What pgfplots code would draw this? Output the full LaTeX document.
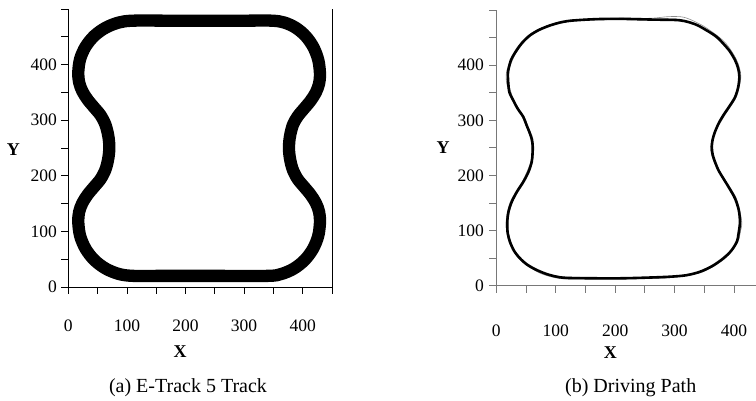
\documentclass[border=0pt]{standalone}
\usepackage{fontspec}
\setmainfont{Liberation Serif}
\usepackage{pgfplots}
\pgfplotsset{compat=1.18}
\definecolor{axgray}{RGB}{120,120,120}
\definecolor{lapgray}{RGB}{140,140,140}
\begin{document}
\begin{tikzpicture}[x=1pt,y=1pt]
\useasboundingbox (0pt,0pt) rectangle (756pt,401pt);
\pgfplotsset{myaxis/.style={
  scale only axis, xmin=0, ymin=0, ymax=500,
  axis x line=bottom, axis y line=left,
  tick align=outside, major tick length=7pt,
  ytick={0,50,...,500}, yticklabels={0,,100,,200,,300,,400,,},
  /pgf/number format/assume math mode=true,
  tick label style={font=\fontsize{17.5}{20}\selectfont, text=black},
  clip=false,
}}
% ---------- (a) track ----------
\begin{axis}[myaxis,
  at={(68.3pt,114pt)}, anchor=south west,
  width=263.7pt, height=278pt, xmax=450,
  xtick={0,50,...,450}, xticklabels={0,,100,,200,,300,,400,},
  axis line style={-, black, line width=0.8pt},
  tick style={black, line width=0.8pt},
  xticklabel style={anchor=center, yshift=-32pt},
  yticklabel style={xshift=-1pt},
  every axis x label/.style={at={(axis description cs:0.4236,0)}, anchor=center, yshift=-64.7pt, font=\fontsize{18}{20}\selectfont\bfseries},
  every axis y label/.style={at={(axis description cs:0,0.4928)}, anchor=center, xshift=-55pt, font=\fontsize{18}{20}\selectfont\bfseries},
  xlabel={X}, ylabel={Y},
]
\addplot[black, line width=12.3pt, smooth, tension=0.55] coordinates {
(229,479) (300,479) (347,479) (368.4,475.7) (388.3,466.1) (405.3,450.9) (418.4,431)
(426.7,407.8) (429.5,383) (428,366) (422.5,350) (413.5,335) (402.5,321) (391.5,307)
(383.5,292) (379,275) (377,261) (376.5,251.5) (377,241) (379,227) (383.5,210)
(391.5,194) (402.5,180) (413.5,166) (422.5,151) (428,135) (429.5,117) (426.5,91.9)
(417.5,68.5) (403.3,48.4) (384.8,33) (363.2,23.3) (340,20) (250,20) (160,20) (111,20)
(86.7,23.3) (64,33) (44.5,48.4) (29.6,68.5) (20.2,91.9) (17,117) (18.5,135) (24,151)
(33,166) (44,180) (55,194) (63,210) (67.5,227) (69.5,241) (70,251.5) (69.5,262)
(67.5,276) (63,293) (55,309) (44,323) (33,337) (24,352) (18.5,368) (17,386)
(20.2,410.1) (29.6,432.5) (44.5,451.8) (64,466.5) (86.7,475.8) (111,479) (170,479)
(229,479)
};
\draw[black, line width=0.8pt] (axis cs:450,0) -- (axis cs:450,500);
\end{axis}
% ---------- (b) driving path ----------
\begin{axis}[myaxis,
  at={(496.3pt,115.3pt)}, anchor=south west,
  width=259.7pt, height=275.7pt, xmax=437,
  xtick={0,50,...,400}, xticklabels={0,,100,,200,,300,,400},
  axis line style={-, axgray, line width=0.8pt},
  tick style={axgray, line width=0.8pt},
  xticklabel style={anchor=center, yshift=-38pt},
  yticklabel style={xshift=-2pt},
  every axis x label/.style={at={(axis description cs:0.439,0)}, anchor=center, yshift=-67.3pt, font=\fontsize{18}{20}\selectfont\bfseries},
  every axis y label/.style={at={(axis description cs:0,0.4995)}, anchor=center, xshift=-53.3pt, font=\fontsize{18}{20}\selectfont\bfseries},
  xlabel={X}, ylabel={Y},
]
\addplot[lapgray, line width=0.6pt, smooth, tension=0.5] coordinates {
(210,485.5) (260,485) (290,488) (315,487) (338,477) (357,465) (385,441) (404,410)
(411.5,380) (404,343) (385,310) (369,281) (364,265) (360.5,252) (362,238) (367,224)
(383,195) (404,158) (413,116) (410,96) (406,79) (384,49) (345,24) (292,15) (250,13)
(208,12) (160,12) (112,12.5) (86,18) (66,27) (38,49) (21,80) (16.5,116) (23.5,152)
(44,189) (58,225) (60,252) (55,276) (44,306) (27,336) (17.5,367) (18,391) (32.5,428)
(55,455) (89,473) (129,482) (210,485.5)
};
\addplot[lapgray, line width=0.6pt, smooth, tension=0.5] coordinates {
(210,483) (264,481.5) (300,484) (330,476) (354,462) (382,438) (403,409) (410.5,378)
(403,341) (383,308) (367,280) (361.5,252) (366,225) (381,195) (403,158) (412,116)
(406,79) (383,48) (343,24) (292,14.5) (250,13.5) (208,14) (160,15) (112.8,16)
(88,21) (68,29.5) (40,51) (23.5,81) (19.5,116) (27,152) (46.5,188) (60.5,225)
(62.5,252) (57.5,276) (46.5,306) (29.5,336) (21,367) (21,391) (35.5,427) (57.5,453)
(91,471) (130,480) (210,483)
};
\addplot[black, line width=2.6pt, smooth, tension=0.5] coordinates {
(210,484) (264,482.6) (309,481.3) (335,474) (354,463) (370,452) (382,439) (393,425)
(401.8,409) (407,394) (409,378.6) (407,360) (401.8,342) (392,325) (382,309) (374,294)
(368,279) (364,265) (362.6,251.8) (364,238) (368,224.6) (374,209) (382,194.6)
(392,177) (401.8,158) (408,137) (410,116) (408,97) (404.7,79.7) (395,63) (382,49.6)
(364,36) (343,25.4) (320,19) (292.4,16.3) (250,14.5) (208,13.4) (160,13.5)
(112.8,14.5) (88,20) (68,28.4) (52,38) (39.9,49.6) (30,63) (23,79.7) (19,97)
(18.5,116) (20.5,134) (25.9,152) (35,171) (45.5,188.4) (54,206) (59.6,224.6)
(61,240) (61.3,252) (60,265) (56.7,276) (51,291) (45.5,306) (36,321) (28.6,336)
(22,351) (20.2,366.7) (19.5,380) (20.2,390.8) (25,410) (34.3,427) (44,441)
(56.7,454) (72,464) (90.4,472) (110,478) (129.6,481) (170,483.5) (210,484)
};
\end{axis}
\node[font=\fontsize{20}{22}\selectfont] at (188pt,13pt) {(a) E-Track 5 Track};
\node[font=\fontsize{20}{22}\selectfont] at (630.7pt,13pt) {(b) Driving Path};
\end{tikzpicture}
\end{document}
